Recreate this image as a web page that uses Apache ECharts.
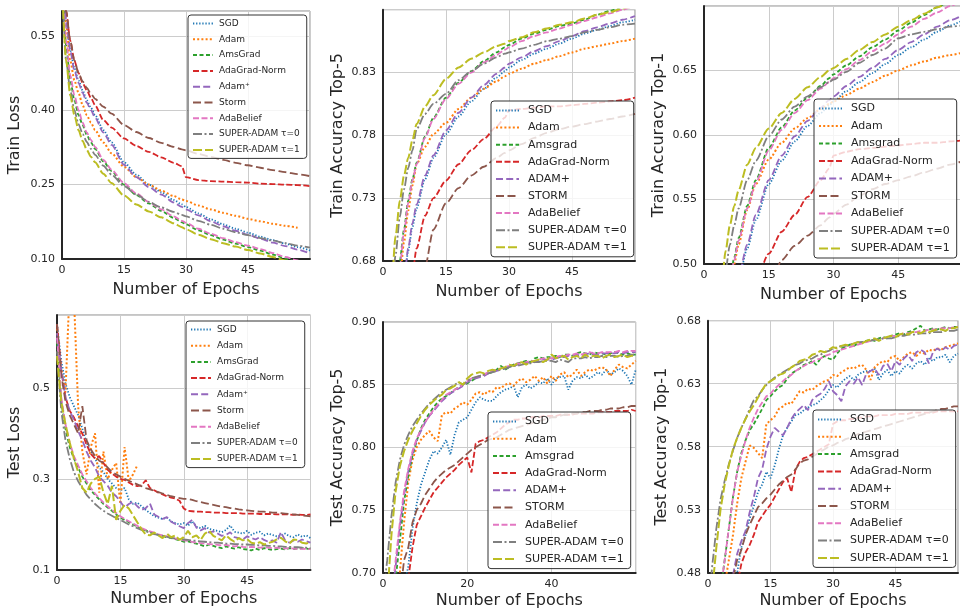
<!DOCTYPE html>
<html><head><meta charset="utf-8">
<script src="https://cdn.jsdelivr.net/npm/echarts@6/dist/echarts.min.js"></script>
<style>html,body{margin:0;padding:0;background:#fff}#c{width:960px;height:612px}</style>
</head><body><div id="c"></div>
<script>
// ---------- x grids ----------
const epochsTrain = [0,1,2,3,4,5,6,7,8,10,12,15,18,21,24,27,29,30,33,36,39,42,45,48,51,54,57,60];
const epochsTest = [0,1,2,3,4,5,6,7,8,9,10,11,12,13,14,15,16,17,18,19,20,21,22,23,24,25,26,27,28,29,30,31,32,33,34,35,36,37,38,39,40,41,42,43,44,45,46,47,48,49,50,51,52,53,54,55,56,57,58,59,60];

// ---------- names ----------
const namesLeft = ['SGD','Adam','AmsGrad','AdaGrad-Norm','Adam\u207A','Storm','AdaBelief','SUPER-ADAM \u03C4=0','SUPER-ADAM \u03C4=1'];
const namesRight = ['SGD','Adam','Amsgrad','AdaGrad-Norm','ADAM+','STORM','AdaBelief','SUPER-ADAM \u03C4=0','SUPER-ADAM \u03C4=1'];

// ---------- Train Loss ----------
const trLoss_SGD = [0.70,0.58,0.52,0.485,0.46,0.44,0.42,0.405,0.39,0.36,0.335,0.295,0.27,0.25,0.235,0.219,0.21,0.205,0.192,0.18,0.17,0.161,0.153,0.145,0.138,0.131,0.124,0.117];
const trLoss_Adam = [0.70,0.57,0.50,0.46,0.435,0.41,0.39,0.375,0.36,0.335,0.313,0.286,0.265,0.25,0.238,0.227,0.22,0.217,0.208,0.2,0.193,0.187,0.181,0.176,0.171,0.167,0.163,null];
const trLoss_Ams = [0.68,0.53,0.46,0.42,0.39,0.37,0.35,0.335,0.322,0.297,0.277,0.25,0.229,0.212,0.197,0.183,0.174,0.17,0.158,0.148,0.139,0.131,0.124,0.117,0.109,0.101,0.094,0.087];
const trLoss_AdaG = [0.72,0.60,0.54,0.50,0.475,0.455,0.44,0.425,0.41,0.38,0.365,0.343,0.328,0.316,0.305,0.294,0.287,0.265,0.259,0.257,0.256,0.255,0.254,0.252,0.251,0.25,0.249,0.247];
const trLoss_AdamP = [0.70,0.58,0.52,0.48,0.455,0.435,0.415,0.4,0.385,0.355,0.33,0.29,0.265,0.245,0.23,0.214,0.205,0.2,0.188,0.176,0.166,0.157,0.149,0.141,0.133,0.126,0.119,0.111];
const trLoss_Storm = [0.72,0.60,0.54,0.50,0.475,0.458,0.445,0.433,0.423,0.407,0.393,0.37,0.356,0.344,0.334,0.326,0.321,0.319,0.312,0.306,0.3,0.294,0.289,0.284,0.279,0.275,0.271,0.267];
const trLoss_Belief = [0.68,0.54,0.47,0.43,0.40,0.375,0.355,0.34,0.326,0.3,0.28,0.253,0.232,0.215,0.2,0.186,0.177,0.173,0.161,0.151,0.142,0.134,0.127,0.12,0.112,0.104,0.097,0.09];
const trLoss_S0 = [0.66,0.50,0.44,0.40,0.372,0.352,0.336,0.322,0.31,0.288,0.27,0.247,0.23,0.215,0.204,0.195,0.189,0.186,0.177,0.169,0.161,0.154,0.148,0.142,0.137,0.132,0.127,0.123];
const trLoss_S1 = [0.65,0.50,0.43,0.39,0.36,0.338,0.32,0.306,0.295,0.272,0.253,0.228,0.21,0.196,0.184,0.172,0.164,0.16,0.149,0.14,0.132,0.125,0.118,0.111,0.104,0.097,0.09,0.084];

// ---------- Train Accuracy Top-5 ----------
const trT5_SGD = [0.45,0.5,0.55,0.6,0.635,0.662,0.688,0.707,0.722,0.745,0.762,0.781,0.795,0.807,0.817,0.826,0.831,0.834,0.84,0.845,0.849,0.853,0.857,0.861,0.864,0.867,0.87,0.872];
const trT5_Adam = [0.47,0.52,0.57,0.62,0.665,0.695,0.72,0.74,0.757,0.771,0.781,0.79,0.801,0.81,0.817,0.823,0.827,0.829,0.833,0.837,0.84,0.843,0.846,0.849,0.851,0.853,0.855,0.857];
const trT5_Ams = [0.5,0.55,0.6,0.645,0.68,0.705,0.728,0.745,0.758,0.779,0.794,0.81,0.822,0.831,0.839,0.846,0.85,0.852,0.857,0.861,0.864,0.867,0.869,0.872,0.876,0.879,0.882,0.885];
const trT5_AdaG = [0.4,0.45,0.5,0.54,0.57,0.6,0.63,0.67,0.69,0.716,0.73,0.744,0.757,0.768,0.777,0.787,0.794,0.8,0.801,0.802,0.803,0.803,0.804,0.805,0.806,0.807,0.808,0.81];
const trT5_AdamP = [0.45,0.5,0.55,0.6,0.635,0.665,0.69,0.71,0.725,0.748,0.764,0.784,0.798,0.81,0.82,0.829,0.834,0.837,0.842,0.847,0.851,0.855,0.859,0.863,0.866,0.869,0.872,0.875];
const trT5_Storm = [0.35,0.4,0.45,0.5,0.54,0.57,0.6,0.62,0.64,0.675,0.705,0.726,0.738,0.748,0.755,0.762,0.766,0.768,0.773,0.778,0.782,0.785,0.787,0.789,0.791,0.793,0.795,0.797];
const trT5_Belief = [0.5,0.55,0.6,0.64,0.675,0.703,0.726,0.744,0.757,0.778,0.793,0.809,0.821,0.83,0.838,0.844,0.848,0.85,0.855,0.859,0.862,0.865,0.868,0.871,0.874,0.877,0.88,0.883];
const trT5_S0 = [0.55,0.6,0.645,0.685,0.715,0.737,0.754,0.768,0.785,0.797,0.805,0.813,0.824,0.831,0.837,0.842,0.845,0.846,0.849,0.852,0.855,0.857,0.859,0.862,0.864,0.866,0.868,0.869];
const trT5_S1 = [0.55,0.6,0.66,0.70,0.728,0.748,0.762,0.776,0.789,0.803,0.812,0.825,0.834,0.841,0.846,0.851,0.853,0.855,0.858,0.862,0.865,0.868,0.87,0.873,0.876,0.878,0.881,0.884];

// ---------- Train Accuracy Top-1 ----------
const trT1_SGD = [0.3,0.33,0.35,0.37,0.41,0.43,0.45,0.47,0.487,0.512,0.534,0.562,0.58,0.595,0.607,0.617,0.623,0.626,0.634,0.641,0.648,0.655,0.662,0.668,0.674,0.68,0.685,0.689];
const trT1_Adam = [0.3,0.34,0.38,0.41,0.45,0.47,0.485,0.5,0.515,0.542,0.562,0.581,0.594,0.605,0.613,0.62,0.624,0.626,0.631,0.636,0.641,0.646,0.65,0.654,0.657,0.66,0.662,0.664];
const trT1_Ams = [0.3,0.34,0.38,0.41,0.44,0.465,0.487,0.505,0.52,0.545,0.565,0.59,0.606,0.619,0.629,0.638,0.644,0.647,0.654,0.661,0.668,0.674,0.681,0.687,0.693,0.699,0.704,0.709];
const trT1_AdaG = [0.25,0.28,0.31,0.33,0.35,0.37,0.39,0.41,0.43,0.465,0.487,0.508,0.525,0.538,0.552,0.565,0.574,0.584,0.587,0.589,0.59,0.591,0.592,0.593,0.594,0.594,0.595,0.596];
const trT1_AdamP = [0.3,0.33,0.35,0.37,0.41,0.43,0.45,0.47,0.49,0.515,0.538,0.565,0.584,0.599,0.611,0.621,0.627,0.63,0.638,0.645,0.652,0.659,0.666,0.672,0.678,0.684,0.689,0.693];
const trT1_Storm = [0.2,0.23,0.26,0.29,0.31,0.33,0.35,0.37,0.39,0.42,0.45,0.478,0.503,0.514,0.522,0.53,0.536,0.539,0.546,0.553,0.558,0.562,0.565,0.568,0.571,0.574,0.577,0.58];
const trT1_Belief = [0.3,0.34,0.38,0.41,0.44,0.463,0.485,0.503,0.518,0.543,0.563,0.588,0.604,0.617,0.627,0.636,0.641,0.644,0.651,0.658,0.665,0.671,0.678,0.684,0.69,0.695,0.7,0.705];
const trT1_S0 = [0.3,0.35,0.39,0.43,0.47,0.495,0.515,0.53,0.543,0.565,0.58,0.599,0.612,0.622,0.63,0.637,0.641,0.643,0.649,0.656,0.662,0.667,0.675,0.678,0.68,0.682,0.684,0.685];
const trT1_S1 = [0.3,0.35,0.4,0.44,0.48,0.51,0.53,0.545,0.557,0.577,0.59,0.605,0.617,0.628,0.637,0.645,0.65,0.652,0.659,0.666,0.672,0.678,0.684,0.689,0.694,0.699,0.703,0.707];

// ---------- Test Loss ----------
const teLoss_SGD = [0.64,0.56,0.51,0.48,0.46,0.44,0.41,0.38,0.36,0.345, 0.325,0.315,0.30,0.29,0.28,0.275,0.28,0.255,0.245,0.248, 0.24,0.232,0.225,0.218,0.215,0.212,0.215,0.207,0.203,0.2, 0.203,0.197,0.207,0.195,0.192,0.197,0.19,0.188,0.186,0.183, 0.188,0.198,0.184,0.182,0.18,0.186,0.177,0.182,0.184,0.176, 0.18,0.177,0.174,0.176,0.18,0.174,0.172,0.178,0.173,0.176, 0.17];
const teLoss_Adam = [0.63,0.54,0.49,0.72,0.70,0.46,0.36,0.31,0.37,0.40, 0.27,0.36,0.30,0.32,0.335,0.245,0.37,0.295,0.31,0.33];
const teLoss_Ams = [0.60,0.47,0.41,0.37,0.345,0.325,0.305,0.29,0.275,0.265, 0.255,0.245,0.237,0.23,0.222,0.215,0.21,0.205,0.2,0.195, 0.19,0.187,0.183,0.18,0.177,0.175,0.172,0.17,0.168,0.165, 0.162,0.163,0.16,0.158,0.155,0.152,0.156,0.153,0.15,0.148, 0.152,0.149,0.147,0.15,0.146,0.145,0.143,0.147,0.144,0.148, 0.146,0.144,0.146,0.147,0.145,0.148,0.146,0.147,0.148,0.147, 0.146];
const teLoss_AdaG = [0.64,0.54,0.48,0.45,0.435,0.415,0.40,0.375,0.355,0.345, 0.35,0.335,0.32,0.312,0.305,0.30,0.298,0.292,0.287,0.284, 0.286,0.297,0.28,0.275,0.27,0.266,0.262,0.259,0.257,0.252, 0.235,0.23,0.229,0.228,0.228,0.227,0.227,0.226,0.226,0.226, 0.225,0.225,0.225,0.225,0.224,0.224,0.224,0.224,0.223,0.223, 0.223,0.223,0.222,0.222,0.222,0.222,0.221,0.222,0.221,0.221, 0.222];
const teLoss_AdamP = [0.62,0.54,0.48,0.45,0.43,0.405,0.385,0.36,0.34,0.325, 0.305,0.295,0.285,0.27,0.262,0.25,0.237,0.245,0.25,0.24, 0.232,0.236,0.246,0.222,0.217,0.212,0.216,0.206,0.201,0.196, 0.192,0.203,0.21,0.193,0.187,0.192,0.182,0.185,0.18,0.175, 0.177,0.183,0.172,0.17,0.167,0.174,0.17,0.167,0.172,0.166, 0.162,0.165,0.16,0.183,0.165,0.16,0.165,0.162,0.167,0.163, 0.16];
const teLoss_Storm = [0.64,0.53,0.47,0.44,0.42,0.40,0.46,0.385,0.365,0.35, 0.34,0.335,0.325,0.315,0.31,0.305,0.30,0.296,0.292,0.288, 0.284,0.28,0.277,0.274,0.271,0.268,0.265,0.262,0.26,0.258, 0.256,0.256,0.254,0.251,0.249,0.247,0.245,0.243,0.241,0.239, 0.238,0.236,0.235,0.233,0.232,0.231,0.23,0.229,0.228,0.228, 0.227,0.226,0.226,0.225,0.224,0.223,0.222,0.221,0.22,0.219, 0.218];
const teLoss_Belief = [0.61,0.48,0.42,0.38,0.35,0.33,0.31,0.295,0.28,0.268, 0.258,0.248,0.24,0.232,0.225,0.218,0.212,0.207,0.202,0.197, 0.192,0.188,0.185,0.182,0.178,0.176,0.174,0.171,0.169,0.167, 0.165,0.164,0.162,0.16,0.159,0.158,0.157,0.156,0.155,0.154, 0.155,0.153,0.152,0.153,0.151,0.15,0.151,0.15,0.149,0.15, 0.149,0.148,0.149,0.148,0.147,0.148,0.147,0.146,0.147,0.146, 0.146];
const teLoss_S0 = [0.58,0.45,0.385,0.345,0.315,0.295,0.28,0.265,0.255,0.245, 0.237,0.23,0.224,0.219,0.214,0.21,0.205,0.2,0.196,0.192, 0.188,0.185,0.182,0.179,0.177,0.175,0.173,0.171,0.169,0.168, 0.167,0.166,0.165,0.164,0.163,0.162,0.161,0.16,0.16,0.159, 0.158,0.158,0.157,0.157,0.156,0.156,0.155,0.155,0.154,0.154, 0.153,0.153,0.152,0.152,0.151,0.151,0.15,0.15,0.149,0.149, 0.148];
const teLoss_S1 = [0.57,0.47,0.42,0.38,0.345,0.315,0.28,0.27,0.29,0.30, 0.305,0.27,0.245,0.285,0.21,0.23,0.243,0.235,0.22,0.205, 0.19,0.178,0.176,0.182,0.176,0.17,0.18,0.172,0.176,0.166, 0.172,0.186,0.172,0.176,0.166,0.18,0.186,0.175,0.17,0.165, 0.176,0.168,0.162,0.17,0.165,0.168,0.16,0.158,0.161,0.156, 0.159,0.162,0.167,0.171,0.163,0.158,0.167,0.166,0.16,0.158, 0.162];

// ---------- Test Accuracy Top-5 ----------
const teT5_SGD = [0.5,0.55,0.6,0.64,0.67,0.69,0.705,0.735,0.755,0.77, 0.78,0.79,0.797,0.795,0.8,0.806,0.794,0.81,0.82,0.822, 0.824,0.83,0.836,0.84,0.838,0.837,0.837,0.841,0.844,0.846, 0.847,0.849,0.84,0.848,0.85,0.847,0.849,0.852,0.851,0.855, 0.85,0.855,0.856,0.857,0.846,0.853,0.856,0.855,0.858,0.855, 0.857,0.86,0.858,0.862,0.858,0.86,0.863,0.861,0.857,0.85, 0.862];
const teT5_Adam = [0.55,0.6,0.64,0.67,0.70,0.74,0.772,0.79,0.8,0.806, 0.81,0.813,0.808,0.805,0.826,0.828,0.827,0.831,0.833,0.836, 0.834,0.838,0.843,0.844,0.842,0.845,0.844,0.848,0.847,0.85, 0.851,0.849,0.853,0.855,0.852,0.854,0.857,0.853,0.856,0.851, 0.857,0.853,0.858,0.86,0.856,0.858,0.862,0.857,0.86,0.862, 0.861,0.863,0.864,0.862,0.857,0.862,0.866,0.864,0.863,0.866, 0.869];
const teT5_Ams = [0.6,0.64,0.67,0.695,0.725,0.757,0.777,0.793,0.805,0.815, 0.822,0.827,0.832,0.836,0.839,0.841,0.843,0.846,0.848,0.85, 0.851,0.853,0.855,0.857,0.858,0.859,0.86,0.862,0.865,0.862, 0.864,0.866,0.867,0.868,0.869,0.868,0.871,0.872,0.871,0.872, 0.872,0.873,0.872,0.874,0.874,0.873,0.875,0.876,0.875,0.874, 0.876,0.875,0.875,0.874,0.875,0.876,0.875,0.874,0.875,0.874, 0.874];
const teT5_AdaG = [0.5,0.55,0.6,0.63,0.66,0.68,0.695,0.72,0.738,0.745, 0.752,0.758,0.764,0.768,0.772,0.776,0.779,0.782,0.786,0.789, 0.792,0.78,0.803,0.805,0.806,0.808,0.81,0.812,0.815,0.818, 0.82,0.822,0.822,0.823,0.823,0.824,0.824,0.824,0.825,0.825, 0.825,0.825,0.826,0.826,0.826,0.826,0.827,0.827,0.827,0.827, 0.827,0.828,0.828,0.828,0.828,0.829,0.829,0.829,0.829,0.83, 0.829];
const teT5_AdamP = [0.6,0.64,0.675,0.705,0.737,0.762,0.781,0.795,0.806,0.813, 0.82,0.825,0.829,0.833,0.837,0.84,0.843,0.845,0.847,0.849, 0.852,0.854,0.855,0.856,0.857,0.859,0.86,0.861,0.862,0.863, 0.864,0.865,0.866,0.866,0.867,0.868,0.868,0.869,0.87,0.87, 0.87,0.871,0.872,0.872,0.873,0.873,0.874,0.873,0.874,0.875, 0.874,0.874,0.875,0.875,0.875,0.875,0.876,0.875,0.876,0.876, 0.876];
const teT5_Storm = [0.5,0.55,0.6,0.64,0.68,0.71,0.72,0.74,0.75,0.755, 0.762,0.767,0.772,0.776,0.779,0.782,0.784,0.786,0.789,0.792, 0.795,0.798,0.8,0.802,0.804,0.806,0.807,0.808,0.81,0.812, 0.814,0.815,0.816,0.817,0.818,0.819,0.82,0.821,0.822,0.823, 0.824,0.824,0.825,0.826,0.826,0.827,0.827,0.828,0.828,0.829, 0.829,0.829,0.83,0.83,0.831,0.831,0.831,0.832,0.832,0.833, 0.833];
const teT5_Belief = [0.6,0.645,0.68,0.71,0.74,0.765,0.783,0.797,0.807,0.814, 0.82,0.825,0.83,0.834,0.838,0.842,0.844,0.846,0.848,0.85, 0.853,0.855,0.856,0.857,0.858,0.86,0.861,0.862,0.863,0.864, 0.865,0.866,0.867,0.867,0.868,0.869,0.869,0.87,0.871,0.871, 0.871,0.872,0.873,0.873,0.874,0.874,0.875,0.874,0.875,0.876, 0.875,0.875,0.876,0.876,0.876,0.876,0.877,0.876,0.877,0.877, 0.877];
const teT5_S0 = [0.68,0.71,0.745,0.772,0.79,0.802,0.81,0.817,0.822,0.827, 0.831,0.835,0.838,0.841,0.844,0.846,0.848,0.85,0.852,0.85, 0.853,0.855,0.856,0.857,0.858,0.859,0.86,0.861,0.862,0.863, 0.864,0.865,0.865,0.866,0.867,0.867,0.868,0.868,0.869,0.869, 0.869,0.868,0.87,0.869,0.868,0.871,0.871,0.871,0.872,0.871, 0.872,0.872,0.873,0.872,0.873,0.873,0.872,0.873,0.873,0.874, 0.874];
const teT5_S1 = [0.64,0.68,0.73,0.765,0.785,0.797,0.806,0.813,0.819,0.825, 0.83,0.834,0.837,0.84,0.842,0.846,0.847,0.849,0.852,0.85, 0.855,0.858,0.859,0.86,0.859,0.861,0.862,0.861,0.863,0.864, 0.866,0.865,0.867,0.868,0.866,0.868,0.869,0.87,0.868,0.87, 0.874,0.871,0.872,0.873,0.87,0.872,0.873,0.871,0.874,0.872, 0.873,0.873,0.871,0.873,0.874,0.872,0.873,0.874,0.872,0.873, 0.873];

// ---------- Test Accuracy Top-1 ----------
const teT1_SGD = [0.33,0.36,0.39,0.41,0.43,0.45,0.465,0.48,0.5,0.51, 0.523,0.533,0.544,0.55,0.56,0.555,0.565,0.578,0.589,0.595, 0.6,0.605,0.606,0.609,0.611,0.613,0.614,0.617,0.62,0.625, 0.629,0.627,0.631,0.634,0.636,0.633,0.637,0.639,0.64,0.64, 0.642,0.633,0.638,0.641,0.636,0.64,0.638,0.643,0.645,0.642, 0.646,0.648,0.645,0.65,0.648,0.651,0.651,0.653,0.647,0.652, 0.654];
const teT1_Adam = [0.36,0.39,0.42,0.45,0.47,0.49,0.51,0.535,0.555,0.568, 0.581,0.579,0.575,0.571,0.598,0.601,0.604,0.61,0.612,0.615, 0.614,0.619,0.624,0.623,0.626,0.625,0.628,0.63,0.632,0.633, 0.637,0.636,0.639,0.641,0.643,0.642,0.644,0.645,0.641,0.633, 0.643,0.646,0.648,0.647,0.651,0.652,0.648,0.651,0.654,0.655, 0.652,0.655,0.654,0.657,0.656,0.658,0.657,0.659,0.66,0.661, 0.662];
const teT1_Ams = [0.38,0.41,0.44,0.465,0.49,0.515,0.54,0.56,0.575,0.585, 0.593,0.598,0.604,0.61,0.617,0.62,0.624,0.627,0.629,0.634, 0.638,0.64,0.642,0.645,0.646,0.648,0.645,0.65,0.652,0.65, 0.649,0.654,0.658,0.659,0.661,0.66,0.662,0.663,0.664,0.665, 0.664,0.666,0.667,0.666,0.668,0.669,0.67,0.669,0.671,0.672, 0.674,0.676,0.672,0.673,0.674,0.673,0.674,0.675,0.674,0.675, 0.675];
const teT1_AdaG = [0.33,0.36,0.39,0.41,0.43,0.45,0.46,0.47,0.487,0.496, 0.502,0.51,0.52,0.525,0.53,0.534,0.54,0.546,0.552,0.555, 0.544,0.562,0.568,0.571,0.572,0.574,0.576,0.578,0.58,0.582, 0.598,0.6,0.601,0.601,0.602,0.602,0.603,0.603,0.604,0.604, 0.604,0.605,0.605,0.605,0.605,0.606,0.606,0.606,0.606,0.607, 0.607,0.607,0.607,0.607,0.607,0.608,0.608,0.608,0.608,0.608, 0.608];
const teT1_AdamP = [0.35,0.38,0.41,0.43,0.45,0.465,0.478,0.495,0.505,0.513, 0.528,0.54,0.555,0.562,0.578,0.588,0.595,0.592,0.589,0.595, 0.602,0.607,0.61,0.613,0.609,0.617,0.62,0.622,0.626,0.632, 0.624,0.621,0.616,0.628,0.632,0.63,0.635,0.629,0.638,0.64, 0.642,0.637,0.644,0.646,0.64,0.648,0.645,0.65,0.653,0.648, 0.655,0.657,0.655,0.646,0.655,0.658,0.656,0.659,0.657,0.66, 0.661];
const teT1_Storm = [0.35,0.38,0.41,0.43,0.45,0.465,0.475,0.49,0.498,0.51, 0.518,0.525,0.532,0.535,0.539,0.542,0.546,0.55,0.553,0.556, 0.558,0.562,0.567,0.569,0.57,0.572,0.574,0.576,0.578,0.58, 0.581,0.583,0.584,0.586,0.587,0.588,0.59,0.591,0.592,0.593, 0.594,0.595,0.596,0.597,0.598,0.599,0.6,0.601,0.602,0.603, 0.604,0.605,0.606,0.607,0.608,0.609,0.61,0.61,0.611,0.612, 0.612];
const teT1_Belief = [0.38,0.41,0.44,0.465,0.49,0.515,0.54,0.56,0.573,0.585, 0.595,0.603,0.61,0.615,0.62,0.622,0.626,0.629,0.632,0.635, 0.637,0.64,0.642,0.644,0.646,0.647,0.649,0.65,0.652,0.653, 0.655,0.656,0.657,0.658,0.659,0.66,0.661,0.662,0.663,0.664, 0.665,0.665,0.666,0.667,0.668,0.668,0.669,0.67,0.67,0.671, 0.671,0.672,0.672,0.673,0.673,0.673,0.674,0.674,0.674,0.675, 0.675];
const teT1_S0 = [0.45,0.485,0.515,0.538,0.553,0.566,0.577,0.587,0.595,0.602, 0.61,0.617,0.62,0.625,0.629,0.632,0.635,0.637,0.639,0.641, 0.643,0.645,0.646,0.648,0.649,0.65,0.652,0.653,0.655,0.656, 0.658,0.659,0.66,0.66,0.661,0.662,0.663,0.663,0.664,0.664, 0.665,0.665,0.666,0.666,0.666,0.667,0.668,0.668,0.669,0.669, 0.669,0.67,0.67,0.67,0.671,0.671,0.671,0.672,0.672,0.672, 0.673];
const teT1_S1 = [0.43,0.465,0.5,0.53,0.55,0.565,0.578,0.587,0.595,0.602, 0.608,0.613,0.619,0.625,0.63,0.632,0.634,0.637,0.638,0.64, 0.643,0.645,0.648,0.649,0.65,0.653,0.654,0.656,0.655,0.657, 0.659,0.658,0.66,0.661,0.66,0.662,0.663,0.662,0.664,0.665, 0.666,0.664,0.666,0.667,0.668,0.667,0.669,0.67,0.669,0.671, 0.671,0.67,0.672,0.671,0.672,0.673,0.673,0.672,0.674,0.674, 0.675];

// ---------- styling ----------
const FONT = 'DejaVu Sans';
const TXT = '#262626';
const GRIDC = '#cccccc';
const COLORS = ['#1f77b4','#ff7f0e','#2ca02c','#d62728','#9467bd','#8c564b','#e377c2','#7f7f7f','#bcbd22'];
const DASHES = [[1.3,1.8],[2,2.2],[4,2.5],[6,2.5],[7,3.2],[8,3.5],[6,2.5],[9,2.5,2,2.5],[9,3]];
const WIDTHS = [1.8,2,1.8,1.8,1.8,1.8,1.8,1.8,2];

const panels = [
  {g:[62,11,248,248], xs:epochsTrain, smooth:true, names:namesLeft,
   ys:[trLoss_SGD,trLoss_Adam,trLoss_Ams,trLoss_AdaG,trLoss_AdamP,trLoss_Storm,trLoss_Belief,trLoss_S0,trLoss_S1],
   ymin:0.1, ymax:0.6, yint:0.15, dec:2, showMax:false, xint:15, yname:'Train Loss', ygap:39, xgap:23,
   lg:{left:188, top:15, fs:9, iw:20, ih:10, gap:6.8, tp:1}},
  {g:[383,9.7,252,251.3], xs:epochsTrain, smooth:true, names:namesRight,
   ys:[trT5_SGD,trT5_Adam,trT5_Ams,trT5_AdaG,trT5_AdamP,trT5_Storm,trT5_Belief,trT5_S0,trT5_S1],
   ymin:0.68, ymax:0.88, yint:0.05, dec:2, showMax:false, xint:15, yname:'Train Accuracy Top-5', ygap:37, xgap:23,
   lg:{left:491, top:101, fs:11, iw:23, ih:12, gap:6.1, tp:4}},
  {g:[704,6,259,258], xs:epochsTrain, smooth:true, names:namesRight,
   ys:[trT1_SGD,trT1_Adam,trT1_Ams,trT1_AdaG,trT1_AdamP,trT1_Storm,trT1_Belief,trT1_S0,trT1_S1],
   ymin:0.5, ymax:0.7, yint:0.05, dec:2, showMax:false, xint:15, yname:'Train Accuracy Top-1', ygap:37, xgap:23,
   lg:{left:814, top:99, fs:11, iw:23, ih:12, gap:6.5, tp:4}},
  {g:[57,315,253.5,255], xs:epochsTest, smooth:false, names:namesLeft,
   ys:[teLoss_SGD,teLoss_Adam,teLoss_Ams,teLoss_AdaG,teLoss_AdamP,teLoss_Storm,teLoss_Belief,teLoss_S0,teLoss_S1],
   ymin:0.1, ymax:0.66, yint:0.2, dec:1, showMax:false, xint:15, yname:'Test Loss', ygap:34, xgap:21,
   lg:{left:186, top:321, fs:9, iw:20, ih:10, gap:7.2, tp:1}},
  {g:[383,322,252.7,250.7], xs:epochsTest, smooth:false, names:namesRight,
   ys:[teT5_SGD,teT5_Adam,teT5_Ams,teT5_AdaG,teT5_AdamP,teT5_Storm,teT5_Belief,teT5_S0,teT5_S1],
   ymin:0.7, ymax:0.9, yint:0.05, dec:2, showMax:true, xint:20, yname:'Test Accuracy Top-5', ygap:37, xgap:20,
   lg:{left:488, top:412, fs:11, iw:23, ih:12, gap:6.2, tp:4}},
  {g:[708,320.7,250,252], xs:epochsTest, smooth:false, names:namesRight,
   ys:[teT1_SGD,teT1_Adam,teT1_Ams,teT1_AdaG,teT1_AdamP,teT1_Storm,teT1_Belief,teT1_S0,teT1_S1],
   ymin:0.48, ymax:0.68, yint:0.05, dec:2, showMax:true, xint:15, yname:'Test Accuracy Top-1', ygap:38, xgap:20,
   lg:{left:813, top:410, fs:11, iw:23, ih:12, gap:6.3, tp:4}}
];

const grids = [], xAxes = [], yAxes = [], series = [], legends = [];
panels.forEach((p, k) => {
  grids.push({left:p.g[0], top:p.g[1], width:p.g[2], height:p.g[3], show:true,
    borderColor:'#8a8a8a', borderWidth:1, containLabel:false, outerBoundsMode:'none'});
  xAxes.push({type:'value', gridIndex:k, min:0, max:60, interval:p.xint,
    name:'Number of Epochs', nameLocation:'middle', nameGap:p.xgap,
    nameTextStyle:{fontSize:16, color:TXT, fontFamily:FONT},
    axisLine:{show:true, onZero:false, lineStyle:{color:'#262626', width:2}},
    axisTick:{show:false},
    axisLabel:{showMaxLabel:false, showMinLabel:true, fontSize:11, color:TXT, fontFamily:FONT, margin:6, hideOverlap:false},
    splitLine:{show:true, lineStyle:{color:GRIDC, width:1}}});
  yAxes.push({type:'value', gridIndex:k, min:p.ymin, max:p.ymax, interval:p.yint,
    name:p.yname, nameLocation:'middle', nameRotate:90, nameGap:p.ygap,
    nameTextStyle:{fontSize:16, color:TXT, fontFamily:FONT},
    axisLine:{show:true, onZero:false, lineStyle:{color:'#262626', width:2}},
    axisTick:{show:false},
    axisLabel:{showMaxLabel:p.showMax, showMinLabel:true, fontSize:11, color:TXT, fontFamily:FONT, margin:7, hideOverlap:false,
      formatter:(v)=>v.toFixed(p.dec)},
    splitLine:{show:true, lineStyle:{color:GRIDC, width:1}}});
  p.ys.forEach((ys, j) => {
    series.push({type:'line', name:p.names[j], xAxisIndex:k, yAxisIndex:k,
      data:p.xs.map((x, i) => [x, (ys[i] === undefined || ys[i] === null) ? null : ys[i]]),
      showSymbol:false, symbol:'none', smooth:p.smooth ? 0.25 : false, smoothMonotone:'x',
      clip:true, connectNulls:false, emphasis:{disabled:true},
      lineStyle:{color:COLORS[j], width:WIDTHS[j], type:DASHES[j]},
      itemStyle:{color:COLORS[j]}});
  });
  legends.push({show:true, orient:'vertical', left:p.lg.left, top:p.lg.top,
    data:p.names, selectedMode:false,
    itemWidth:p.lg.iw, itemHeight:p.lg.ih, itemGap:p.lg.gap,
    padding:[4,7,4,4],
    backgroundColor:'rgba(255,255,255,0.8)', borderColor:'#333', borderWidth:1, borderRadius:3,
    itemStyle:{opacity:0},
    textStyle:{fontSize:p.lg.fs, color:TXT, fontFamily:FONT, padding:[0,0,0,p.lg.tp]}});
});

const chart = echarts.init(document.getElementById('c'), null, {renderer:'canvas', width:960, height:612});
chart.setOption({
  animation:false,
  backgroundColor:'#ffffff',
  grid:grids, xAxis:xAxes, yAxis:yAxes, legend:legends, series:series
});
</script>
</body></html>
